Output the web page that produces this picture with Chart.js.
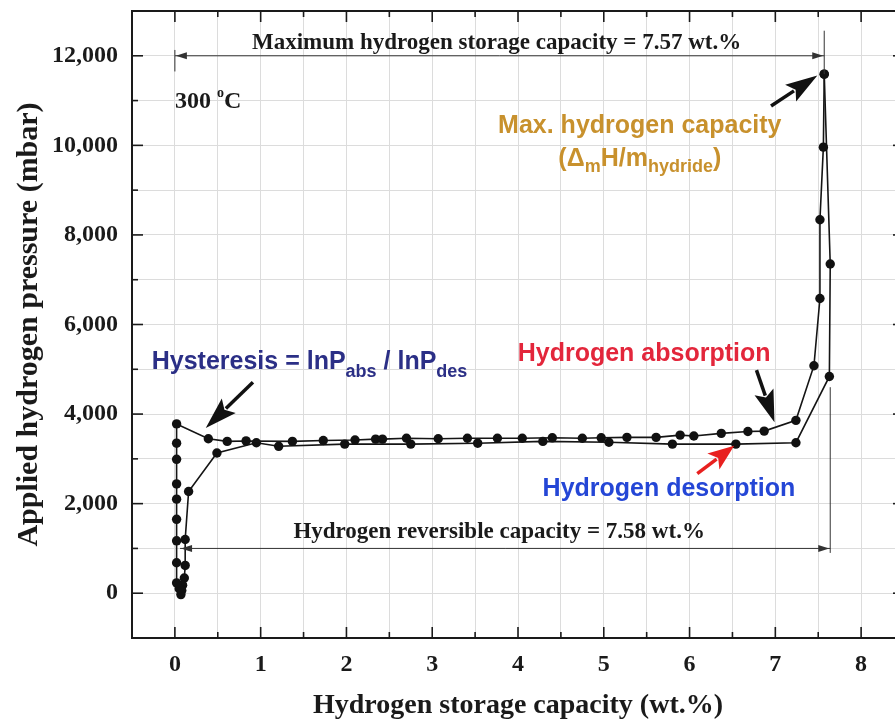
<!DOCTYPE html>
<html>
<head>
<meta charset="utf-8">
<title>PCT isotherm at 300 °C</title>
<script src="https://cdn.jsdelivr.net/npm/chart.js@4.4.1/dist/chart.umd.min.js"></script>
<style>
  html, body { margin: 0; padding: 0; background: #fff; overflow: hidden; }
  .chart { position: relative; width: 910px; height: 724px; }
</style>
</head>
<body>
<div class="chart"><canvas id="pct"></canvas></div>
<script>
// Absorption branch (wt.% , mbar)
const absX = [0.07, 0.05, 0.02, 0.02, 0.02, 0.02, 0.02, 0.02, 0.02, 0.02, 0.02,
  0.39, 0.61, 0.83, 1.37, 1.73, 2.10, 2.34, 2.42, 2.70, 3.07, 3.41, 3.76, 4.05,
  4.40, 4.75, 4.97, 5.27, 5.61, 5.89, 6.05, 6.37, 6.68, 6.87, 7.24, 7.45, 7.52,
  7.52, 7.56, 7.57];
const absY = [-30, 100, 230, 680, 1170, 1650, 2100, 2440, 2990, 3350, 3780,
  3450, 3390, 3400, 3390, 3410, 3420, 3440, 3440, 3460, 3450, 3460, 3460, 3460,
  3470, 3460, 3470, 3480, 3480, 3530, 3510, 3570, 3610, 3620, 3860, 5080, 6580,
  8340, 9960, 11590];

// Desorption branch
const desX = [7.57, 7.64, 7.63, 7.24, 6.54, 5.80, 5.06, 4.29, 3.53, 2.75, 1.98,
  1.21, 0.95, 0.49, 0.16, 0.12, 0.12, 0.11, 0.09, 0.08];
const desY = [11590, 7350, 4840, 3360, 3330, 3330, 3370, 3390, 3350, 3330, 3330,
  3280, 3360, 3130, 2270, 1200, 620, 340, 180, 60];

const xTickLabels = ['0', '1', '2', '3', '4', '5', '6', '7', '8'];
const yTickLabels = ['0', '2,000', '4,000', '6,000', '8,000', '10,000', '12,000'];

const maxCapacity = 7.57;        // wt.%
const reversibleCapacity = 7.58; // wt.%
const reversibleEnd = 7.64;

const serif = '"Liberation Serif", "Times New Roman", serif';
const sans = '"Liberation Sans", Arial, sans-serif';

const toPoints = (xs, ys) => xs.map((v, i) => ({ x: v, y: ys[i] }));

function line(ctx, x1, y1, x2, y2) {
  ctx.beginPath();
  ctx.moveTo(x1, y1);
  ctx.lineTo(x2, y2);
  ctx.stroke();
}

// thin dimension arrow head
function smallHead(ctx, tipX, tipY, dir) {
  ctx.beginPath();
  ctx.moveTo(tipX, tipY);
  ctx.lineTo(tipX - dir * 11, tipY - 3.5);
  ctx.lineTo(tipX - dir * 11, tipY + 3.5);
  ctx.closePath();
  ctx.fill();
}

// fat pointer arrow
function pointer(ctx, x1, y1, x2, y2, color, headLen, headHalf) {
  const ang = Math.atan2(y2 - y1, x2 - x1);
  const bx = x2 - Math.cos(ang) * headLen;
  const by = y2 - Math.sin(ang) * headLen;
  ctx.strokeStyle = color;
  ctx.fillStyle = color;
  ctx.lineWidth = 3.5;
  line(ctx, x1, y1, bx + Math.cos(ang) * 4, by + Math.sin(ang) * 4);
  ctx.beginPath();
  ctx.moveTo(x2, y2);
  ctx.lineTo(bx - Math.sin(ang) * headHalf, by + Math.cos(ang) * headHalf);
  ctx.lineTo(bx + Math.cos(ang) * 6, by + Math.sin(ang) * 6);
  ctx.lineTo(bx + Math.sin(ang) * headHalf, by - Math.cos(ang) * headHalf);
  ctx.closePath();
  ctx.fill();
}

// text made of runs with optional baseline shift (sub/superscripts)
function richText(ctx, runs, x, y, align, color) {
  ctx.fillStyle = color;
  ctx.textBaseline = 'alphabetic';
  ctx.textAlign = 'left';
  let total = 0;
  runs.forEach(r => { ctx.font = r.font; total += ctx.measureText(r.text).width; });
  let cx = align === 'center' ? x - total / 2 : x;
  runs.forEach(r => {
    ctx.font = r.font;
    ctx.fillText(r.text, cx, y + (r.dy || 0));
    cx += ctx.measureText(r.text).width;
  });
}

const figureExtras = {
  id: 'figureExtras',
  afterDraw(chart) {
    const { ctx, chartArea: a, scales } = chart;
    const px = v => scales.x.getPixelForValue(v);
    const py = v => scales.y.getPixelForValue(v);
    ctx.save();

    // frame with inward ticks on all four sides
    ctx.strokeStyle = '#1a1a1a';
    ctx.lineWidth = 2;
    ctx.strokeRect(a.left, a.top, a.right - a.left, a.bottom - a.top);
    ctx.lineWidth = 1.6;
    scales.x.ticks.forEach(t => {
      const len = Number.isInteger(t.value) ? 11 : 6;
      const p = px(t.value);
      line(ctx, p, a.bottom, p, a.bottom - len);
      line(ctx, p, a.top, p, a.top + len);
    });
    scales.y.ticks.forEach(t => {
      const len = t.value % 2000 === 0 ? 11 : 6;
      const p = py(t.value);
      line(ctx, a.left, p, a.left + len, p);
      line(ctx, a.right, p, a.right - len, p);
    });

    // dimension lines
    ctx.strokeStyle = '#333';
    ctx.fillStyle = '#333';
    ctx.lineWidth = 1;
    const yMax = py(12000);
    line(ctx, px(0), yMax, px(maxCapacity), yMax);
    smallHead(ctx, px(0) + 1, yMax, -1);
    smallHead(ctx, px(maxCapacity) - 1, yMax, 1);
    line(ctx, px(0), py(12130), px(0), py(11650));
    line(ctx, px(maxCapacity), py(12560), px(maxCapacity), py(11590));

    const yRev = py(1000);
    const revStart = reversibleEnd - reversibleCapacity;
    line(ctx, px(revStart), yRev, px(reversibleEnd), yRev);
    smallHead(ctx, px(revStart) + 1, yRev, -1);
    smallHead(ctx, px(reversibleEnd) - 1, yRev, 1);
    line(ctx, px(reversibleEnd), py(4600), px(reversibleEnd), py(900));

    // serif labels
    const lab = `bold 23px ${serif}`;
    richText(ctx, [{ text: `Maximum hydrogen storage capacity = ${maxCapacity} wt.%`, font: lab }],
      px(3.75), py(12150), 'center', '#1a1a1a');
    richText(ctx, [{ text: `Hydrogen reversible capacity = ${reversibleCapacity} wt.%`, font: lab }],
      px(3.78), py(1240), 'center', '#1a1a1a');
    richText(ctx, [
      { text: '300 ', font: `bold 24px ${serif}` },
      { text: 'o', font: `bold 14px ${serif}`, dy: -11 },
      { text: 'C', font: `bold 24px ${serif}` }
    ], px(0.0), py(10830), 'left', '#1a1a1a');

    // coloured notes
    const big = `bold 25px ${sans}`;
    const sub = `bold 18px ${sans}`;
    const gold = '#c8912d';
    richText(ctx, [{ text: 'Max. hydrogen capacity', font: big }], px(5.42), py(10280), 'center', gold);
    richText(ctx, [
      { text: '(\u0394', font: big },
      { text: 'm', font: sub, dy: 6 },
      { text: 'H/m', font: big },
      { text: 'hydride', font: sub, dy: 6 },
      { text: ')', font: big }
    ], px(5.42), py(9540), 'center', gold);

    richText(ctx, [
      { text: 'Hysteresis = lnP', font: big },
      { text: 'abs', font: sub, dy: 8 },
      { text: ' / lnP', font: big },
      { text: 'des', font: sub, dy: 8 }
    ], px(-0.27), py(5000), 'left', '#2b2f86');

    richText(ctx, [{ text: 'Hydrogen absorption', font: big }], px(5.47), py(5180), 'center', '#e3263b');
    richText(ctx, [{ text: 'Hydrogen desorption', font: big }], px(5.76), py(2170), 'center', '#2446d6');

    // pointers
    pointer(ctx, px(6.95), py(10880), px(7.49), py(11560), '#111', 32, 10);
    pointer(ctx, px(0.91), py(4710), px(0.36), py(3690), '#111', 32, 10);
    pointer(ctx, px(6.78), py(4980), px(6.99), py(3820), '#111', 32, 10);
    pointer(ctx, px(6.09), py(2670), px(6.52), py(3290), '#e8201f', 26, 10);

    ctx.restore();
  }
};

const ctx = document.getElementById('pct').getContext('2d');

new Chart(ctx, {
  type: 'scatter',
  data: {
    datasets: [
      {
        label: 'Absorption',
        data: toPoints(absX, absY),
        showLine: true,
        borderColor: '#151515',
        borderWidth: 1.6,
        pointRadius: 4.7,
        pointBackgroundColor: '#111',
        pointBorderWidth: 0
      },
      {
        label: 'Desorption',
        data: toPoints(desX, desY),
        showLine: true,
        borderColor: '#151515',
        borderWidth: 1.6,
        pointRadius: 4.7,
        pointBackgroundColor: '#111',
        pointBorderWidth: 0
      }
    ]
  },
  options: {
    responsive: true,
    maintainAspectRatio: false,
    animation: false,
    layout: { padding: { top: 11, right: 6, left: 0, bottom: 0 } },
    scales: {
      x: {
        type: 'linear',
        min: -0.5,
        max: 8.5,
        afterFit: s => {
          s.height = 86;
          s.paddingLeft = 0;
          s.paddingRight = 0;
        },
        border: { display: false },
        grid: { color: '#dcdcdc', lineWidth: 1, drawTicks: false },
        ticks: {
          stepSize: 0.5,
          padding: 12,
          color: '#1a1a1a',
          font: { family: serif, size: 24, weight: 'bold' },
          callback: v => {
            if (v < 0 || v > 8) return null;
            return Number.isInteger(v) ? xTickLabels[v] : '';
          }
        },
        title: {
          display: true,
          text: 'Hydrogen storage capacity (wt.%)',
          color: '#1a1a1a',
          font: { family: serif, size: 28, weight: 'bold' },
          padding: { top: 0, bottom: 1 }
        }
      },
      y: {
        type: 'linear',
        min: -1000,
        max: 13000,
        afterFit: s => {
          s.width = 132;
          s.paddingTop = 0;
          s.paddingBottom = 0;
        },
        border: { display: false },
        grid: { color: '#dcdcdc', lineWidth: 1, drawTicks: false },
        ticks: {
          stepSize: 1000,
          padding: 14,
          color: '#1a1a1a',
          font: { family: serif, size: 24, weight: 'bold' },
          callback: v => {
            if (v < 0 || v > 12000) return null;
            return v % 2000 === 0 ? yTickLabels[v / 2000] : '';
          }
        },
        title: {
          display: true,
          text: 'Applied hydrogen pressure (mbar)',
          color: '#1a1a1a',
          font: { family: serif, size: 30, weight: 'bold' },
          padding: { top: 11, bottom: 0 }
        }
      }
    },
    plugins: {
      legend: { display: false },
      tooltip: { enabled: false }
    }
  },
  plugins: [figureExtras]
});
</script>
</body>
</html>
